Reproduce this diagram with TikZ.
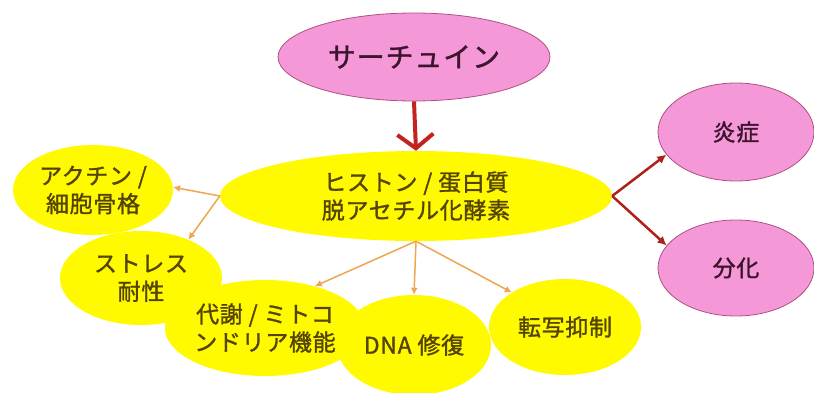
\documentclass[tikz,border=0pt]{standalone}
\usepackage{fontspec}
\setmainfont[FakeBold=1.3,LetterSpace=3]{Noto Sans CJK JP}
\usetikzlibrary{shapes.geometric,arrows.meta}
\definecolor{pinkfill}{RGB}{245,152,215}
\definecolor{pinkline}{RGB}{176,80,130}
\definecolor{yel}{RGB}{255,250,0}
\definecolor{ytext}{RGB}{85,68,0}
\definecolor{ptext}{RGB}{60,20,45}
\definecolor{darkred}{RGB}{195,35,30}
\definecolor{orangeln}{RGB}{240,165,80}
\tikzset{
  pinknode/.style={ellipse, fill=pinkfill, draw=pinkline, line width=0.8pt, inner sep=0pt, text=ptext, align=center, font=\fontsize{23}{28}\selectfont},
  yellownode/.style={ellipse, fill=yel, inner sep=0pt, text=ytext, align=center, font=\fontsize{23}{28}\selectfont},
  toparrow/.style={draw=darkred, line width=4pt, -{Straight Barb[length=14pt,width=36pt]}},
  redarrow/.style={draw=darkred!90!black, line width=2.5pt, -{Latex[length=9pt,width=9pt]}},
  orangearrow/.style={draw=orangeln, line width=1.5pt, -{Latex[length=7pt,width=7pt]}}
}
\begin{document}
\begin{tikzpicture}[x=1pt,y=-1pt]
\fill[white] (0,0) rectangle (814,393);
\useasboundingbox (0,0) rectangle (814,393);
% nodes
\node[pinknode, minimum width=272pt, minimum height=88pt, font=\fontsize{28}{32}\selectfont] (sirt) at (414,57) {サーチュイン};
\node[yellownode, minimum width=160pt, minimum height=90pt] (actin) at (93,190) {アクチン /\\細胞骨格};
\node[yellownode, minimum width=162pt, minimum height=94pt] (stress) at (141,278) {ストレス\\耐性};
\node[yellownode, minimum width=156pt, minimum height=96pt] (meta) at (265,328) {代謝 / ミトコ\\ンドリア機能};
\node[yellownode, minimum width=154pt, minimum height=100pt] (dna) at (414,345) {DNA 修復};
\node[yellownode, minimum width=152pt, minimum height=96pt] (trans) at (565,327) {転写抑制};
\node[yellownode, minimum width=392pt, minimum height=90pt] (hdac) at (416,196) {ヒストン / 蛋白質\\脱アセチル化酵素};
\node[pinknode, minimum width=156pt, minimum height=98pt] (infl) at (736,132) {炎症};
\node[pinknode, minimum width=156pt, minimum height=96pt] (diff) at (736,268) {分化};
% connectors
\draw[toparrow] (sirt.south) -- (hdac.north);
\draw[redarrow] (hdac.east) -- (infl.198);
\draw[redarrow] (hdac.east) -- (diff.162);
\draw[orangearrow] (hdac.west) -- (actin.2);
\draw[orangearrow] (hdac.west) -- (stress.39);
\draw[orangearrow] (hdac.south) -- (meta.40);
\draw[orangearrow] (hdac.south) -- (dna.north);
\draw[orangearrow] (hdac.south) -- (trans.147);
\end{tikzpicture}
\end{document}
